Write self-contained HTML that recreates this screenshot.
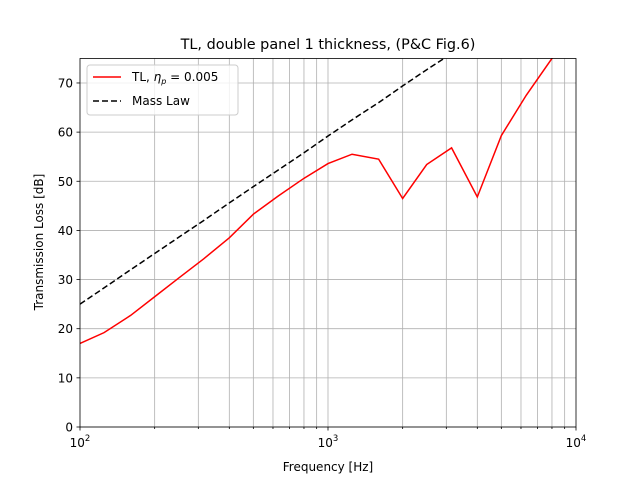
<!DOCTYPE html>
<html><head><meta charset="utf-8"><style>
body{margin:0;background:#fff}
svg{font-family:"DejaVu Sans","Liberation Sans",sans-serif}
</style></head><body>
<svg id="chart" width="640" height="480" viewBox="0 0 640 480">
<rect width="640" height="480" fill="#fff"/>
<defs><clipPath id="clip"><rect x="80" y="58" width="496" height="369"/></clipPath></defs>
<g id="grid"></g>
<g id="series" clip-path="url(#clip)"></g>
<rect x="80" y="58.5" width="496" height="368.5" fill="none" stroke="#000" stroke-width="0.8"/>
<g id="axes"></g>
<text x="328" y="49" font-size="14.4" text-anchor="middle">TL, double panel 1 thickness, (P&amp;C Fig.6)</text>
<text x="328" y="471" font-size="12" text-anchor="middle">Frequency [Hz]</text>
<text transform="translate(43,242) rotate(-90)" font-size="12" text-anchor="middle">Transmission Loss [dB]</text>
<g>
<rect x="87" y="65" width="151" height="50" rx="3" fill="#fff" fill-opacity="0.8" stroke="#ccc"/>
<line x1="93" y1="77" x2="121" y2="77" stroke="red" stroke-width="1.5"/>
<text x="132" y="81" font-size="12">TL, <tspan font-style="italic">η</tspan><tspan font-size="8" font-style="italic" dy="3">p</tspan><tspan dy="-3"> = 0.005</tspan></text>
<line x1="93" y1="101" x2="121" y2="101" stroke="#000" stroke-width="1.5" stroke-dasharray="6,3"/>
<text x="132" y="105" font-size="12">Mass Law</text>
</g>
</svg>
<script>
const freqs=[100,125,160,200,250,315,400,500,630,800,1000,1250,1600,2000,2500,3150,4000,5000,6300,8000,10000];
const tlValues=[17,19.2,22.7,26.5,30.3,34.2,38.5,43.3,47,50.6,53.6,55.5,54.5,46.5,53.4,56.8,46.8,59.3,67.5,75,82];
const massFreqs=[100,125,160,200,250,315,400,500,630,800,1000,1250,1600,2000,2500,3150,4000];
const massValues=[25,28.3,32.0,35.3,38.6,42.0,45.6,48.9,52.3,55.8,59.2,62.5,66.0,69.4,72.7,76.0,79.6];
const yTicks=[0,10,20,30,40,50,60,70];
const xMajor=[2,3,4];
const NS='http://www.w3.org/2000/svg';
const X0=80,X1=576,Y0=427,Y1=58.4,YMAX=75;
function xs(f){return X0+(Math.log10(f)-2)/2*(X1-X0);}
function ys(v){return Y0-v/YMAX*(Y0-Y1);}
function mk(t,a,p){const e=document.createElementNS(NS,t);for(const k in a)e.setAttribute(k,a[k]);p.appendChild(e);return e;}
const grid=document.getElementById('grid'),axes=document.getElementById('axes'),ser=document.getElementById('series');
for(let d=2;d<4;d++){for(let m=1;m<10;m++){const f=m*Math.pow(10,d);const x=xs(f);
 if(m>1||d>2){const g=mk('line',{x1:x,x2:x,y1:Y1,y2:Y0,stroke:'#b0b0b0','stroke-width':0.8},grid);
 }
 mk('line',{x1:x,x2:x,y1:Y0,y2:Y0+(m==1?3.5:2),stroke:'#000','stroke-width':0.8},axes);}}
mk('line',{x1:X1,x2:X1,y1:Y0,y2:Y0+3.5,stroke:'#000','stroke-width':0.8},axes);
xMajor.forEach(e=>{const x=xs(Math.pow(10,e));
 const t=mk('text',{x:x,y:447,'font-size':12,'text-anchor':'middle'},axes);
 
 t.innerHTML='10<tspan font-size="8.5" dy="-6">'+e+'</tspan>';});
yTicks.forEach(v=>{const y=ys(v);
 const g=mk('line',{x1:X0,x2:X1,y1:y,y2:y,stroke:'#b0b0b0','stroke-width':0.8},grid);
 
 mk('line',{x1:X0-3.5,x2:X0,y1:y,y2:y,stroke:'#000','stroke-width':0.8},axes);
 const t=mk('text',{x:X0-7,y:y+4.5,'font-size':12,'text-anchor':'end'},axes);
 t.textContent=v;});
const m=mk('polyline',{points:massFreqs.map((f,i)=>xs(f)+','+ys(massValues[i])).join(' '),fill:'none',stroke:'#000','stroke-width':1.5,'stroke-dasharray':'6,3'},ser);

const r=mk('polyline',{points:freqs.map((f,i)=>xs(f)+','+ys(tlValues[i])).join(' '),fill:'none',stroke:'red','stroke-width':1.5},ser);

</script>
</body></html>
